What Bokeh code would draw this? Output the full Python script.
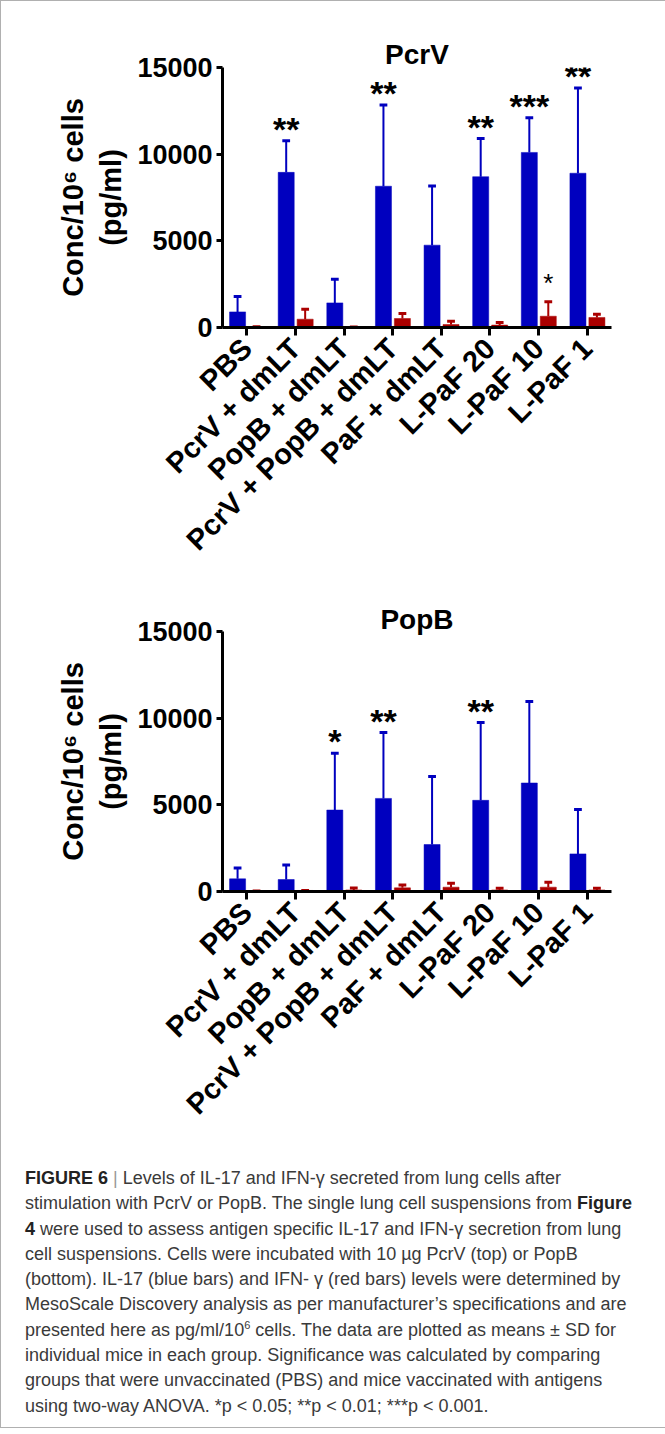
import math
from bokeh.plotting import figure
from bokeh.models import ColumnDataSource, FactorRange, Range1d, FixedTicker, Div
from bokeh.transform import dodge
from bokeh.layouts import column
from bokeh.core.properties import value
from bokeh.embed import file_html
from bokeh.resources import INLINE

# ---------------- data ----------------
groups = ["PBS", "PcrV + dmLT", "PopB + dmLT", "PcrV + PopB + dmLT",
          "PaF + dmLT", "L-PaF 20", "L-PaF 10", "L-PaF 1"]

# PcrV stimulation
pcrv_il17 = [900, 8950, 1420, 8150, 4750, 8700, 10100, 8900]
pcrv_il17_sd = [890, 1820, 1370, 4680, 3420, 2200, 2000, 4920]
pcrv_ifng = [50, 480, 30, 520, 170, 140, 650, 580]
pcrv_ifng_sd = [0, 580, 0, 290, 190, 155, 830, 190]
pcrv_sig_il17 = ["", "**", "", "**", "", "**", "***", "**"]
pcrv_sig_ifng = ["", "", "", "", "", "", "*", ""]

# PopB stimulation
popb_il17 = [730, 690, 4700, 5370, 2710, 5260, 6260, 2170]
popb_il17_sd = [630, 840, 3280, 3800, 3920, 4490, 4700, 2560]
popb_ifng = [30, 60, 90, 210, 250, 90, 250, 90]
popb_ifng_sd = [0, 0, 110, 170, 230, 100, 290, 100]
popb_sig_il17 = ["", "", "*", "**", "", "**", "", ""]
popb_sig_ifng = ["", "", "", "", "", "", "", ""]

y_max = 15000
y_ticks = [0, 5000, 10000, 15000]
y_label = "Conc/10\u2076 cells\n(pg/ml)"

FONT = "Liberation Sans"
BLUE = "#0000BF"
RED = "#AA0000"
OFF_B = -0.19
OFF_R = 0.20
BAR_W = 0.33
CAP = 0.08


def make_chart(title, il17, il17_sd, ifng, ifng_sd, sig17, sigg,
               width, height, left, frame_w, top, bottom, title_standoff):
    src = ColumnDataSource(dict(
        g=groups,
        il17=il17,
        il17_top=[a + b for a, b in zip(il17, il17_sd)],
        ifng=ifng,
        ifng_top=[a + b for a, b in zip(ifng, ifng_sd)],
        sig17=sig17,
        sigg=sigg,
    ))
    p = figure(x_range=FactorRange(*groups), y_range=Range1d(0, y_max),
               width=width, height=height,
               min_border_left=left, min_border_right=width - left - frame_w,
               min_border_top=top, min_border_bottom=bottom,
               output_backend="svg", toolbar_location=None, title=title)
    xr = p.x_range

    def dx(off):
        return dodge("g", off, range=xr)

    for off, col, top_f, val_f in [(OFF_B, BLUE, "il17_top", "il17"),
                                   (OFF_R, RED, "ifng_top", "ifng")]:
        p.vbar(x=dx(off), top=val_f, width=BAR_W, source=src,
               fill_color=col, line_color=col, line_width=0.5)
        p.segment(x0=dx(off), y0=val_f, x1=dx(off), y1=top_f, source=src,
                  line_color=col, line_width=2)
        p.segment(x0=dx(off - CAP), y0=top_f, x1=dx(off + CAP), y1=top_f,
                  source=src, line_color=col, line_width=3)

    p.text(x=dx(OFF_B), y="il17_top", text="sig17", source=src,
           text_align="center", text_baseline="alphabetic", y_offset=-12,
           text_font=value(FONT), text_font_style="bold",
           text_font_size="34px", text_color="black")
    p.text(x=dx(OFF_R), y="ifng_top", text="sigg", source=src,
           text_align="center", text_baseline="alphabetic", y_offset=-19,
           text_font=value(FONT), text_font_style="normal",
           text_font_size="26px", text_color="black")

    p.title.align = "center"
    p.title.text_font = FONT
    p.title.text_font_size = "28px"
    p.title.text_font_style = "bold"
    p.title.text_color = "black"
    p.title.standoff = title_standoff

    p.grid.visible = False
    p.outline_line_color = None
    p.background_fill_color = "white"
    p.border_fill_color = "white"

    for ax in (p.xaxis[0], p.yaxis[0]):
        ax.axis_line_width = 3
        ax.axis_line_color = "black"
        ax.major_tick_line_width = 3
        ax.major_tick_line_color = "black"
        ax.minor_tick_line_color = None
        ax.major_tick_in = 0
        ax.major_label_text_font = FONT
        ax.major_label_text_font_style = "bold"
        ax.major_label_text_color = "black"

    p.xaxis.major_tick_out = 8
    p.xaxis.major_label_orientation = math.pi / 4
    p.xaxis.major_label_text_font_size = "29px"
    p.xaxis.major_label_standoff = 8

    p.yaxis.ticker = FixedTicker(ticks=y_ticks)
    p.yaxis.major_tick_out = 6
    p.yaxis.major_label_standoff = 4
    p.yaxis.major_label_text_font_size = "27px"
    p.yaxis.axis_label = y_label
    p.yaxis.axis_label_text_font = FONT
    p.yaxis.axis_label_text_font_size = "29px"
    p.yaxis.axis_label_text_font_style = "bold"
    p.yaxis.axis_label_text_color = "black"
    p.yaxis.axis_label_standoff = 7
    return p


p1 = make_chart("PcrV", pcrv_il17, pcrv_il17_sd, pcrv_ifng, pcrv_ifng_sd,
                pcrv_sig_il17, pcrv_sig_ifng,
                width=654, height=582, left=214, frame_w=396, top=66, bottom=256,
                title_standoff=-4)
p2 = make_chart("PopB", popb_il17, popb_il17_sd, popb_ifng, popb_ifng_sd,
                popb_sig_il17, popb_sig_ifng,
                width=654, height=558, left=221, frame_w=393, top=48, bottom=250,
                title_standoff=-6)

caption_lines = [
    "<b style='color:#222'>FIGURE 6</b> <span style='color:#999'>|</span> Levels of IL-17 and IFN-\u03b3 secreted from lung cells after",
    "stimulation with PcrV or PopB. The single lung cell suspensions from <b style='color:#222'>Figure</b>",
    "<b style='color:#222'>4</b> were used to assess antigen specific IL-17 and IFN-\u03b3 secretion from lung",
    "cell suspensions. Cells were incubated with 10 \u00b5g PcrV (top) or PopB",
    "(bottom). IL-17 (blue bars) and IFN- \u03b3 (red bars) levels were determined by",
    "MesoScale Discovery analysis as per manufacturer\u2019s specifications and are",
    "presented here as pg/ml/10<sup style='font-size:11px;line-height:0'>6</sup> cells. The data are plotted as means \u00b1 SD for",
    "individual mice in each group. Significance was calculated by comparing",
    "groups that were unvaccinated (PBS) and mice vaccinated with antigens",
    "using two-way ANOVA. *p &lt; 0.05; **p &lt; 0.01; ***p &lt; 0.001.",
]
caption_html = ("<div style=\"font-family:'Liberation Sans',Arial,sans-serif;"
                "font-size:18px;line-height:25.3px;color:#3a3a3a;white-space:nowrap;"
                "padding:20px 0 0 19px;\">" + "<br>".join(caption_lines) + "</div>")
caption = Div(text=caption_html, width=654, height=276)

layout = column(p1, p2, caption,
                styles={"border": "1px solid #b0b0b0", "background-color": "white"})

open("out.html", "w").write(file_html(layout, INLINE))
